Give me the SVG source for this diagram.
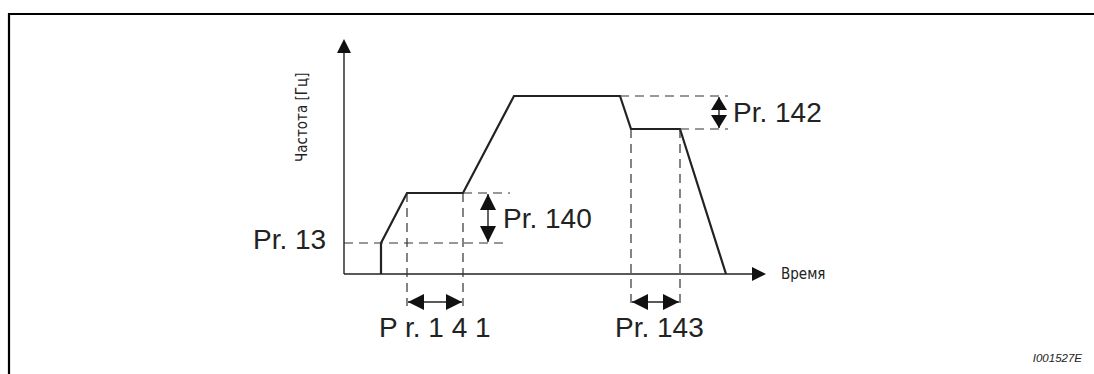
<svg xmlns="http://www.w3.org/2000/svg" width="1094" height="374" viewBox="0 0 1094 374">
<style>
.frame{fill:none;stroke:#000;stroke-width:2.2}
.axis{fill:none;stroke:#222;stroke-width:1.4}
.curve{fill:none;stroke:#222;stroke-width:2.2;stroke-linejoin:miter}
.dash{fill:none;stroke:#333;stroke-width:1.2;stroke-dasharray:9,6}
.dim{fill:none;stroke:#222;stroke-width:1.4}
.lbl{font-family:"Liberation Sans",Arial,sans-serif;font-size:28px;fill:#222}
.ax{font-family:"DejaVu Sans Condensed","DejaVu Sans",sans-serif;font-stretch:condensed;font-size:15px;fill:#222}
.id{font-family:"Liberation Sans",Arial,sans-serif;font-style:italic;font-size:11.5px;fill:#222}
</style>
<defs>
<marker id="dh" viewBox="0 0 16 16" refX="16" refY="8" markerWidth="16" markerHeight="16" markerUnits="userSpaceOnUse" orient="auto-start-reverse"><path d="M0,0 L16,8 L0,16 Z" fill="#111"/></marker>
<marker id="sh" viewBox="0 0 13 16" refX="13" refY="8" markerWidth="13" markerHeight="16" markerUnits="userSpaceOnUse" orient="auto-start-reverse"><path d="M0,0 L13,8 L0,16 Z" fill="#111"/></marker>
</defs>
<rect width="1094" height="374" fill="#fff"/>
<path class="frame" d="M9,374 V14 H1094"/>
<g id="axes">
<line class="axis" x1="344" y1="274" x2="344" y2="52"/>
<path d="M337,53 L344,39 L351,53 Z" fill="#111"/>
<line class="axis" x1="344" y1="274" x2="753" y2="274"/>
<path d="M752,267 L766,274 L752,281 Z" fill="#111"/>
<text class="ax" transform="translate(307,162) rotate(-90)">Частота [Гц]</text>
<text class="ax" x="781" y="279">Время</text>
</g>
<g id="curve">
<path class="curve" d="M381,274 V243 L407,193 H463 L514,96 H620 L631,129 H680 L726,274"/>
</g>
<g id="connectors">
<line class="dash" x1="344" y1="243" x2="508" y2="243"/>
<line class="dash" x1="463" y1="193" x2="510" y2="193"/>
<line class="dash" x1="407" y1="193" x2="407" y2="306"/>
<line class="dash" x1="463" y1="193" x2="463" y2="306"/>
<line class="dash" x1="620" y1="96" x2="728" y2="96"/>
<line class="dash" x1="680" y1="129" x2="728" y2="129"/>
<line class="dash" x1="631" y1="129" x2="631" y2="306"/>
<line class="dash" x1="680" y1="129" x2="680" y2="306"/>
<line class="dim" x1="488" y1="194" x2="488" y2="242" marker-start="url(#dh)" marker-end="url(#dh)"/>
<line class="dim" x1="719" y1="97" x2="719" y2="128" marker-start="url(#sh)" marker-end="url(#sh)"/>
<line class="dim" x1="408" y1="302" x2="462" y2="302" marker-start="url(#dh)" marker-end="url(#dh)"/>
<line class="dim" x1="632" y1="302" x2="679" y2="302" marker-start="url(#dh)" marker-end="url(#dh)"/>
</g>
<g id="labels">
<text class="lbl" x="253" y="249">Pr. 13</text>
<text class="lbl" x="503" y="228">Pr. 140</text>
<text class="lbl" x="733" y="122">Pr. 142</text>
<text class="lbl" x="379" y="337" xml:space="preserve">P r. 1 4 1</text>
<text class="lbl" x="615" y="337">Pr. 143</text>
<text class="id" x="1082" y="362" text-anchor="end">I001527E</text>
</g>
</svg>
